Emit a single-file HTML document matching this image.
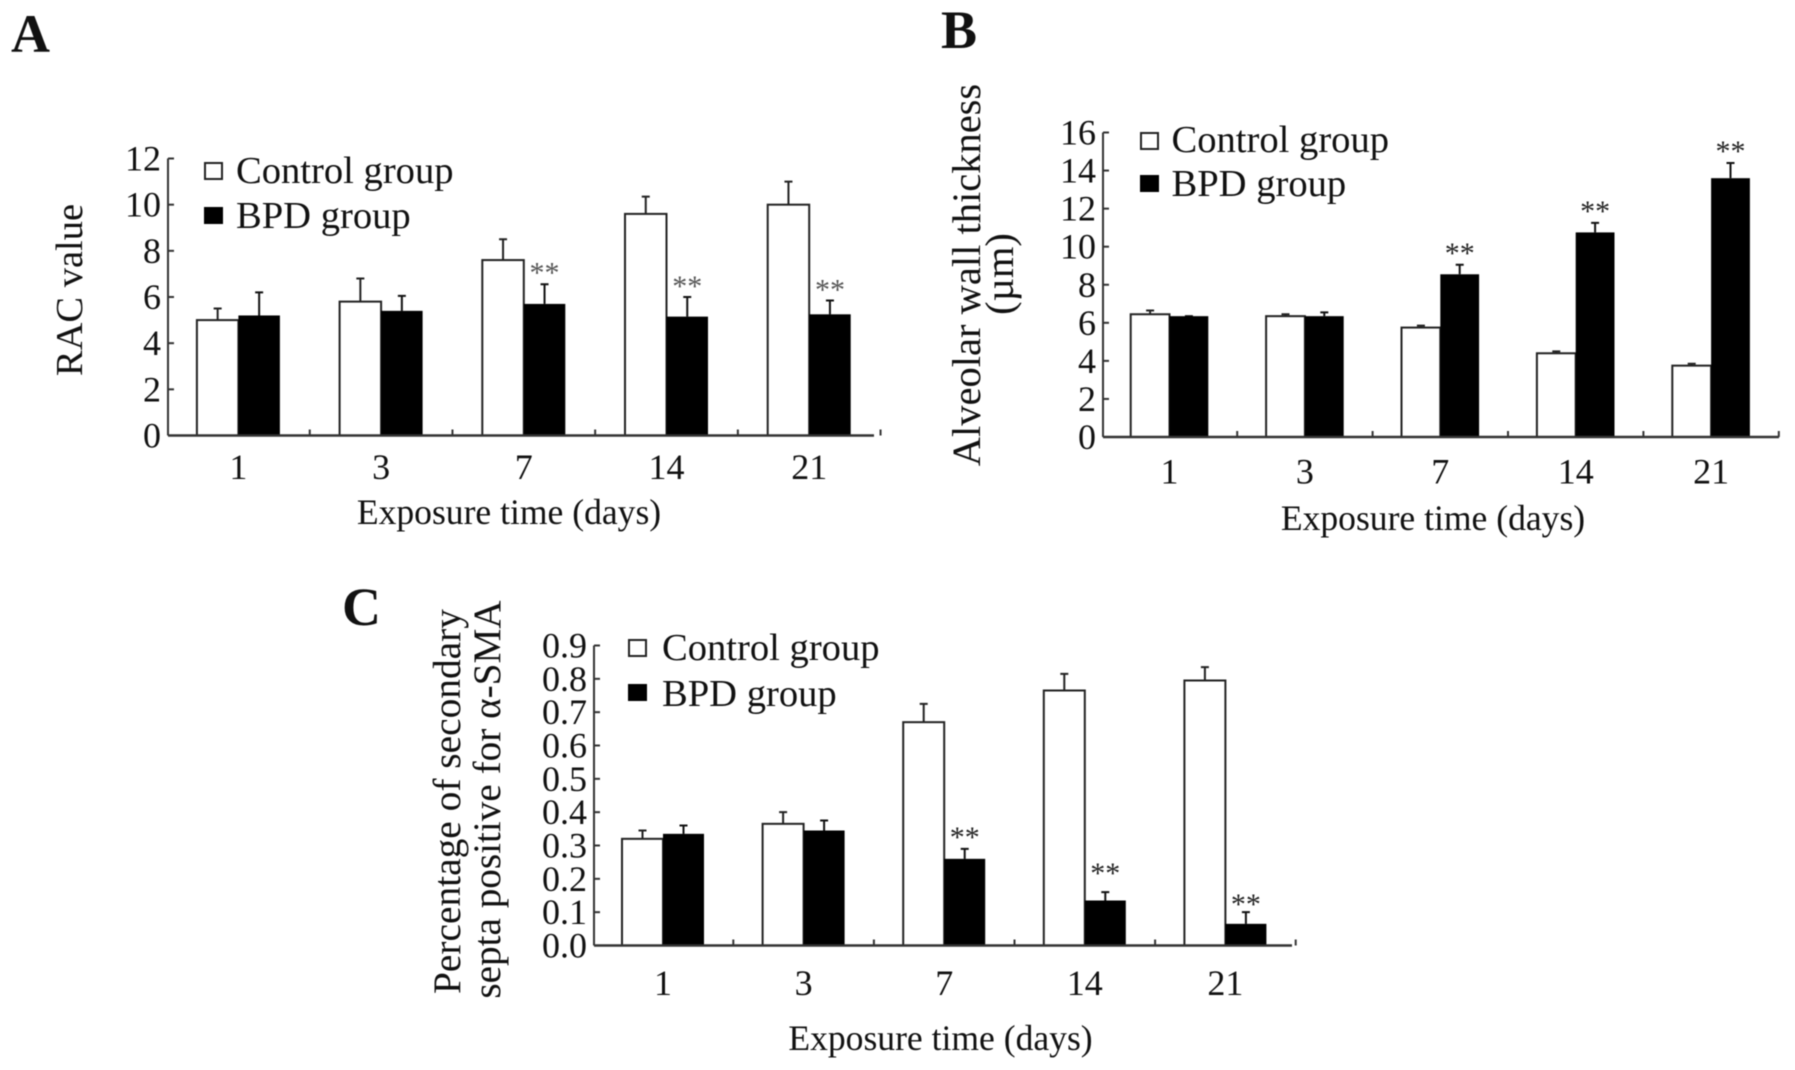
<!DOCTYPE html>
<html lang="en">
<head>
<meta charset="utf-8">
<title>Exposure time charts</title>
<style>
html,body{margin:0;padding:0;background:#fff;width:1795px;height:1070px;overflow:hidden}
svg{display:block;filter:blur(0.6px)}
text{font-family:"Liberation Serif",serif;fill:#111}
</style>
</head>
<body>
<svg id="fig" width="1795" height="1070" viewBox="0 0 1795 1070" xmlns="http://www.w3.org/2000/svg">
  <text x="11" y="52" font-size="54" font-weight="bold">A</text>
  <text x="941" y="48" font-size="54" font-weight="bold">B</text>
  <text x="342" y="625" font-size="54" font-weight="bold">C</text>

  <text font-size="38.5" text-anchor="middle" fill="#222" transform="translate(82,290) rotate(-90)">RAC value</text>
  <text font-size="35.6" text-anchor="middle" x="509" y="524">Exposure time (days)</text>
  <text font-size="40.5" text-anchor="middle" transform="translate(980,275) rotate(-90)">Alveolar wall thickness</text>
  <text font-size="40.5" text-anchor="middle" transform="translate(1013,274) rotate(-90)">(µm)</text>
  <text font-size="35.6" text-anchor="middle" x="1433" y="530">Exposure time (days)</text>
  <text font-size="39.4" text-anchor="middle" transform="translate(460,801.5) rotate(-90)">Percentage of secondary</text>
  <text font-size="39.2" text-anchor="middle" transform="translate(500,799.5) rotate(-90)">septa positive for α-SMA</text>
  <text font-size="35.6" text-anchor="middle" x="940.5" y="1050">Exposure time (days)</text>

  <rect x="205" y="163" width="17" height="16" fill="#fff" stroke="#222" stroke-width="2"/>
  <text font-size="38.6" x="236" y="183">Control group</text>
  <rect x="204" y="207" width="19" height="17" fill="#000"/>
  <text font-size="38.6" x="236" y="228">BPD group</text>

  <rect x="1141" y="133" width="17" height="16" fill="#fff" stroke="#222" stroke-width="2"/>
  <text font-size="38.6" x="1176" y="152" transform="translate(-4.5,0)">Control group</text>
  <rect x="1140" y="175" width="19" height="17" fill="#000"/>
  <text font-size="38.6" x="1176" y="196" transform="translate(-4.5,0)">BPD group</text>

  <rect x="629" y="640" width="17" height="16" fill="#fff" stroke="#222" stroke-width="2"/>
  <text font-size="38.6" x="662" y="660">Control group</text>
  <rect x="628" y="684" width="19" height="17" fill="#000"/>
  <text font-size="38.6" x="662" y="706">BPD group</text>
</svg>
<script>
var days = ['1', '3', '7', '14', '21'];

var aTicks = ['0', '2', '4', '6', '8', '10', '12'];
var aControl = [5.0, 5.8, 7.6, 9.6, 10.0];
var aControlErr = [0.5, 1.0, 0.9, 0.75, 1.0];
var aBpd = [5.2, 5.4, 5.7, 5.15, 5.25];
var aBpdErr = [1.0, 0.65, 0.85, 0.85, 0.6];
var aStars = ['', '', '**', '**', '**'];

var bTicks = ['0', '2', '4', '6', '8', '10', '12', '14', '16'];
var bControl = [6.45, 6.35, 5.75, 4.4, 3.75];
var bControlErr = [0.2, 0.1, 0.1, 0.1, 0.1];
var bBpd = [6.35, 6.35, 8.55, 10.75, 13.6];
var bBpdErr = [0, 0.2, 0.5, 0.5, 0.8];
var bStars = ['', '', '**', '**', '**'];

var cTicks = ['0.0', '0.1', '0.2', '0.3', '0.4', '0.5', '0.6', '0.7', '0.8', '0.9'];
var cControl = [0.32, 0.365, 0.67, 0.765, 0.795];
var cControlErr = [0.025, 0.035, 0.055, 0.05, 0.04];
var cBpd = [0.335, 0.345, 0.26, 0.135, 0.065];
var cBpdErr = [0.025, 0.03, 0.03, 0.025, 0.035];
var cStars = ['', '', '**', '**', '**'];

var NS = 'http://www.w3.org/2000/svg';
var fig = document.getElementById('fig');

function add(tag, attrs) {
  var el = document.createElementNS(NS, tag);
  for (var k in attrs) { el.setAttribute(k, attrs[k]); }
  fig.appendChild(el);
  return el;
}

function drawPanel(p) {
  var yMax = parseFloat(p.ticks[p.ticks.length - 1]);
  function yScale(v) { return p.y0 - (v / yMax) * (p.y0 - p.yTop); }
  function xScale(i) { return p.firstCenter + i * p.step; }

  p.control.forEach(function (v, i) {
    var cx = xScale(i);
    var top = yScale(v);
    var errTop = yScale(v + p.controlErr[i]);
    var err = add('path', {d: 'M' + (cx - p.barW / 2) + ' ' + top + 'V' + errTop + 'm-4 0h8', stroke: '#222', 'stroke-width': 2, fill: 'none'});
    
    
    var bar = add('rect', {x: cx - p.barW, y: top, width: p.barW, height: p.y0 - top, fill: '#fff', stroke: '#222', 'stroke-width': 2});
    
    
  });

  p.bpd.forEach(function (v, i) {
    var cx = xScale(i);
    var top = yScale(v);
    var errTop = yScale(v + p.bpdErr[i]);
    var err = add('path', {d: 'M' + (cx + p.barW / 2) + ' ' + top + 'V' + errTop + 'm-4 0h8', stroke: '#111', 'stroke-width': 2, fill: 'none'});
    
    
    var bar = add('rect', {x: cx, y: top, width: p.barW, height: p.y0 - top, fill: '#000'});
    
    
    if (p.stars[i]) {
      var s = add('text', {x: cx + p.barW / 2, y: errTop - 2 - p.starLift[i], 'font-size': p.starSize, 'text-anchor': 'middle', style: 'fill:' + p.starColor});
      s.textContent = p.stars[i];
      
      
    }
  });

  var yAxis = add('line', {x1: p.xLeft, x2: p.xLeft, y1: p.yTop, y2: p.y0, stroke: '#333', 'stroke-width': 2});
  
  
  var xAxis = add('line', {x1: p.xLeft, x2: p.xRight, y1: p.y0, y2: p.y0, stroke: '#333', 'stroke-width': 2.5});
  
  

  p.ticks.forEach(function (t) {
    var y = yScale(parseFloat(t));
    var tick = add('line', {x1: p.xLeft, x2: p.xLeft + 6, y1: y, y2: y, stroke: '#333', 'stroke-width': 2});
    
    
    var label = add('text', {x: p.xLeft - 7, y: y + 12, 'font-size': 36, 'text-anchor': 'end'});
    label.textContent = t;
    
    
  });

  p.categories.forEach(function (c, i) {
    var cx = xScale(i);
    var label = add('text', {x: cx, y: p.labelY, 'font-size': 36, 'text-anchor': 'middle'});
    label.textContent = c;
    
    
    var edge = cx + p.step / 2;
    var tick = add('line', {x1: edge, x2: edge, y1: p.y0, y2: p.y0 - 6, stroke: '#333', 'stroke-width': 2});
    
    
  });
}

drawPanel({categories: days, ticks: aTicks, control: aControl, controlErr: aControlErr, bpd: aBpd, bpdErr: aBpdErr, stars: aStars, starLift: [0, 0, 0, -1, -1],
  xLeft: 168, xRight: 874, y0: 435.5, yTop: 158.5, firstCenter: 238.4, step: 142.7, barW: 41.5, labelY: 479, starSize: 30, starColor: '#555'});
drawPanel({categories: days, ticks: bTicks, control: bControl, controlErr: bControlErr, bpd: bBpd, bpdErr: bBpdErr, stars: bStars, starLift: [0, 0, 0, 0, 0],
  xLeft: 1103, xRight: 1779, y0: 437, yTop: 132.5, firstCenter: 1169.5, step: 135.4, barW: 38.8, labelY: 483.5, starSize: 30, starColor: '#222'});
drawPanel({categories: days, ticks: cTicks, control: cControl, controlErr: cControlErr, bpd: cBpd, bpdErr: cBpdErr, stars: cStars, starLift: [0, 0, 0, 7, -4],
  xLeft: 594, xRight: 1292, y0: 945.5, yTop: 645.5, firstCenter: 663, step: 140.6, barW: 41, labelY: 995, starSize: 30, starColor: '#222'});
</script>
</body>
</html>
